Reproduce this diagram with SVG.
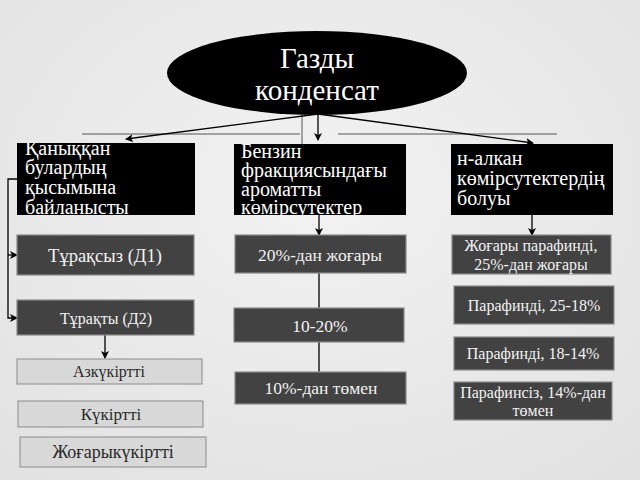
<svg xmlns="http://www.w3.org/2000/svg" width="640" height="480" viewBox="0 0 640 480" font-family="'Liberation Serif', 'DejaVu Serif', serif">
<defs>
<marker id="ah" markerWidth="8" markerHeight="8" refX="7" refY="4" orient="auto" markerUnits="userSpaceOnUse">
<path d="M0,0 L8,4 L0,8 L2,4 Z" fill="#000"/>
</marker>
<radialGradient id="bg" cx="50%" cy="40%" r="75%">
<stop offset="0" stop-color="#f2f2f2"/>
<stop offset="1" stop-color="#e2e2e2"/>
</radialGradient>
<clipPath id="c1"><rect x="17" y="143" width="178" height="72"/></clipPath>
<clipPath id="c2"><rect x="234" y="144" width="172" height="71"/></clipPath>
<clipPath id="c3"><rect x="451" y="144" width="162" height="71"/></clipPath>
</defs>
<style>
.blk{fill:#000}
.drk{fill:#424242;stroke:#8a8a8a;stroke-width:1.2}
.lgt{fill:#d8d8d8;stroke:#9a9a9a;stroke-width:1.2}
.wt{fill:#fff;font-size:20px}
.wc{fill:#f2f2f2;font-size:17.5px;text-anchor:middle}
.dc{fill:#2a2a2a;font-size:17px;text-anchor:middle}
.rc{fill:#f2f2f2;font-size:16px;text-anchor:middle}
.ln{stroke:#000;stroke-width:1.3;fill:none}
.thin{stroke:#555;stroke-width:1;fill:none}
</style>
<rect width="640" height="480" fill="url(#bg)"/>

<g id="connectors">
<line class="thin" x1="82" y1="134" x2="300" y2="134"/>
<line class="thin" x1="338" y1="134" x2="557" y2="134"/>
<line class="thin" x1="302" y1="115" x2="302" y2="144"/>
<line class="ln" x1="318" y1="114" x2="126" y2="139" marker-end="url(#ah)" stroke-width="2"/>
<line class="ln" x1="318" y1="114" x2="318" y2="140" marker-end="url(#ah)" stroke-width="2"/>
<line class="ln" x1="318" y1="114" x2="533" y2="143" marker-end="url(#ah)" stroke-width="2"/>
<polyline class="ln" points="17,179 8,179 8,318 17,318" marker-end="url(#ah)"/>
<line class="ln" x1="8" y1="255" x2="17" y2="255" marker-end="url(#ah)"/>
<line class="ln" x1="105" y1="335" x2="105" y2="358" marker-end="url(#ah)"/>
<line class="ln" x1="319" y1="215" x2="319" y2="235" marker-end="url(#ah)"/>
<line class="ln" x1="319" y1="273" x2="319" y2="308"/>
<line class="ln" x1="319" y1="342" x2="319" y2="372"/>
<line class="ln" x1="532" y1="215" x2="532" y2="235" marker-end="url(#ah)"/>
</g>

<g id="root">
<ellipse cx="317" cy="73" rx="150" ry="42" fill="#000"/>
<text x="317" y="68" fill="#fff" font-size="29" text-anchor="middle">Газды</text>
<text x="317" y="100" fill="#fff" font-size="29" text-anchor="middle">конденсат</text>
</g>

<g id="n-pressure">
<rect class="blk" x="17" y="143" width="178" height="72"/>
<g clip-path="url(#c1)">
<text class="wt" x="25" y="155">Қаныққан</text>
<text class="wt" x="25" y="174">булардың</text>
<text class="wt" x="25" y="194">қысымына</text>
<text class="wt" x="25" y="214">байланысты</text>
</g>
</g>

<g id="n-benzin">
<rect class="blk" x="234" y="144" width="172" height="71"/>
<g clip-path="url(#c2)">
<text class="wt" x="241" y="158">Бензин</text>
<text class="wt" x="241" y="177">фракциясындағы</text>
<text class="wt" x="241" y="196">ароматты</text>
<text class="wt" x="241" y="214">көмірсутектер</text>
</g>
</g>

<g id="n-alkan">
<rect class="blk" x="451" y="144" width="162" height="71"/>
<g clip-path="url(#c3)">
<text class="wt" x="457" y="165">н-алкан</text>
<text class="wt" x="457" y="185">көмірсутектердің</text>
<text class="wt" x="457" y="205">болуы</text>
</g>
</g>

<g id="n-d1">
<rect class="drk" x="17" y="235" width="177" height="40"/>
<text class="wc" x="105" y="262" style="font-size:18.5px">Тұрақсыз (Д1)</text>
</g>
<g id="n-d2">
<rect class="drk" x="17" y="300" width="177" height="35"/>
<text class="wc" x="106" y="324" style="font-size:16px">Тұрақты (Д2)</text>
</g>
<g id="n-az">
<rect class="lgt" x="17" y="359" width="185" height="25"/>
<text class="dc" x="109" y="377" style="font-size:16px">Азкүкіртті</text>
</g>
<g id="n-kuk">
<rect class="lgt" x="18" y="401" width="185" height="26"/>
<text class="dc" x="111" y="420">Күкіртті</text>
</g>
<g id="n-zhog">
<rect class="lgt" x="20" y="437" width="186" height="30"/>
<text class="dc" x="113" y="458" style="font-size:18px">Жоғарыкүкіртті</text>
</g>

<g id="n-20">
<rect class="drk" x="235" y="235" width="171" height="38"/>
<text class="wc" x="320" y="261">20%-дан жоғары</text>
</g>
<g id="n-1020">
<rect class="drk" x="234" y="308" width="170" height="34"/>
<text class="wc" x="320" y="332">10-20%</text>
</g>
<g id="n-10">
<rect class="drk" x="235" y="372" width="171" height="32"/>
<text class="wc" x="321" y="394">10%-дан төмен</text>
</g>

<g id="n-p1">
<rect class="drk" x="452" y="235" width="159" height="39"/>
<text class="rc" x="531" y="251">Жоғары парафинді,</text>
<text class="rc" x="531" y="270">25%-дан жоғары</text>
</g>
<g id="n-p2">
<rect class="drk" x="454" y="286" width="160" height="38"/>
<text class="rc" x="534" y="311">Парафинді, 25-18%</text>
</g>
<g id="n-p3">
<rect class="drk" x="454" y="337" width="160" height="33"/>
<text class="rc" x="533" y="359">Парафинді, 18-14%</text>
</g>
<g id="n-p4">
<rect class="drk" x="454" y="382" width="158" height="38"/>
<text class="rc" x="533" y="398">Парафинсіз, 14%-дан</text>
<text class="rc" x="533" y="416">төмен</text>
</g>
</svg>
